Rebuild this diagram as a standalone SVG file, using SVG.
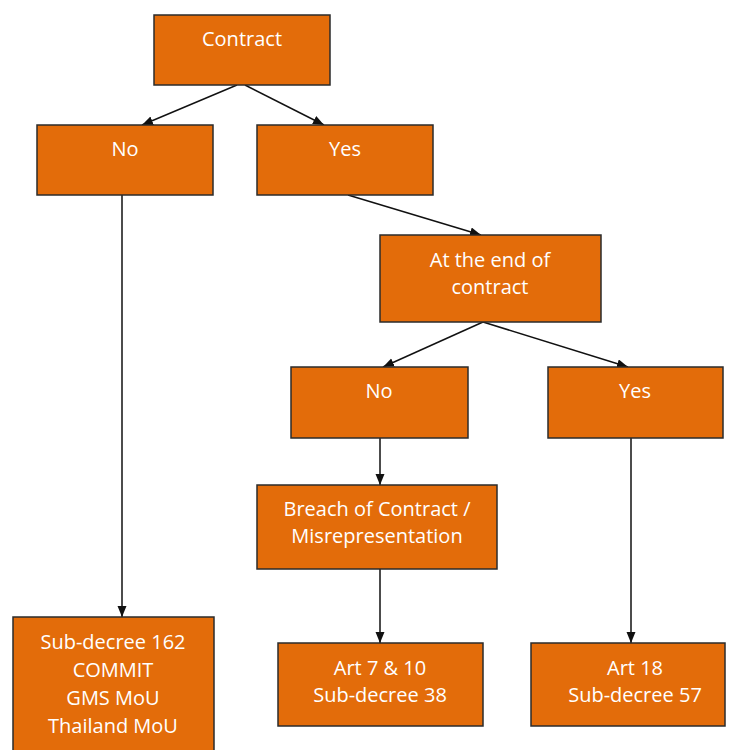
<svg xmlns="http://www.w3.org/2000/svg" width="730" height="750" viewBox="0 0 730 750">
<style>
.box{fill:#E36C0A;stroke:#2b2b2b;stroke-width:1.5}
.t{fill:#ffffff;font-family:"Open Sans","Liberation Sans",sans-serif;font-size:20px;text-anchor:middle}
.c{stroke:#111;stroke-width:1.5;fill:none;marker-end:url(#ah)}
</style>
<defs>
<marker id="ah" markerUnits="userSpaceOnUse" markerWidth="12" markerHeight="10" refX="11" refY="4.5" orient="auto">
<path d="M0,0 L11,4.5 L0,9 z" fill="#111"/>
</marker>
</defs>
<rect width="730" height="750" fill="#ffffff"/>
<g id="connectors">
<line class="c" x1="237" y1="85" x2="142" y2="125"/>
<line class="c" x1="245" y1="85" x2="324" y2="125"/>
<line class="c" x1="348" y1="195" x2="481" y2="235"/>
<line class="c" x1="483" y1="322" x2="383" y2="367"/>
<line class="c" x1="483" y1="322" x2="628" y2="367"/>
<line class="c" x1="380" y1="438" x2="380" y2="485"/>
<line class="c" x1="380" y1="569" x2="380" y2="643"/>
<line class="c" x1="631" y1="438" x2="631" y2="643"/>
<line class="c" x1="122" y1="195" x2="122" y2="617"/>
</g>
<g id="contract"><rect class="box" x="154" y="15" width="176" height="70"/><text class="t" x="242" y="46">Contract</text></g>
<g id="no1"><rect class="box" x="37" y="125" width="176" height="70"/><text class="t" x="125" y="156">No</text></g>
<g id="yes1"><rect class="box" x="257" y="125" width="176" height="70"/><text class="t" x="345" y="156">Yes</text></g>
<g id="endcontract"><rect class="box" x="380" y="235" width="221" height="87"/><text class="t" x="490" y="267">At the end of</text><text class="t" x="490" y="294">contract</text></g>
<g id="no2"><rect class="box" x="291" y="367" width="177" height="71"/><text class="t" x="379" y="398">No</text></g>
<g id="yes2"><rect class="box" x="548" y="367" width="175" height="71"/><text class="t" x="635" y="398">Yes</text></g>
<g id="breach"><rect class="box" x="257" y="485" width="240" height="84"/><text class="t" x="377" y="516">Breach of Contract /</text><text class="t" x="377" y="543">Misrepresentation</text></g>
<g id="subdecree162"><rect class="box" x="13" y="617" width="201" height="140"/><text class="t" x="113" y="649">Sub-decree 162</text><text class="t" x="113" y="677">COMMIT</text><text class="t" x="113" y="705">GMS MoU</text><text class="t" x="113" y="733">Thailand MoU</text></g>
<g id="art7"><rect class="box" x="278" y="643" width="205" height="83"/><text class="t" x="380" y="675">Art 7 &amp; 10</text><text class="t" x="380" y="702">Sub-decree 38</text></g>
<g id="art18"><rect class="box" x="531" y="643" width="194" height="83"/><text class="t" x="635" y="675">Art 18</text><text class="t" x="635" y="702">Sub-decree 57</text></g>
</svg>
